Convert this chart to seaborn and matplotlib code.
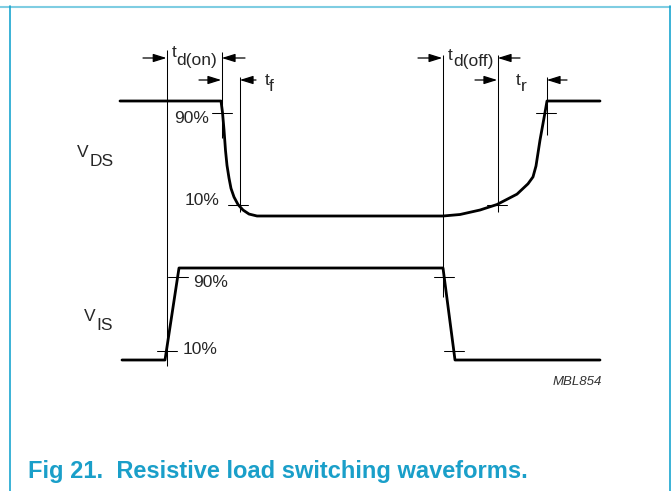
import matplotlib
matplotlib.use('Agg')
import matplotlib.pyplot as plt
import seaborn as sns
import pandas as pd

# waveform data: time (same scale as the drawing) and normalised level 0..1
vds_time = [120, 221, 222.5, 224, 225.5, 227, 229, 231, 234, 238, 243, 249, 257,
            443, 460, 480, 497, 517, 528, 533, 536, 540, 545, 547, 600]
vds_level = [1, 1, 0.9, 0.75, 0.57, 0.44, 0.33, 0.24, 0.165, 0.1, 0.052, 0.017, 0,
             0, 0.013, 0.052, 0.1, 0.19, 0.28, 0.34, 0.435, 0.66, 0.9, 1, 1]
vis_time = [122, 165, 179, 443, 455, 600]
vis_level = [0, 0, 1, 1, 0, 0]

# 10% / 90% crossing points (time, level) on each waveform
vds_marks_t = [222, 238, 497, 546]
vds_marks_v = [0.9, 0.1, 0.1, 0.9]
vis_marks_t = [167, 178, 443.5, 454]
vis_marks_v = [0.1, 0.9, 0.9, 0.1]

# timing reference lines (time, top, bottom in drawing rows)
ref_t = [167, 221.5, 239.5, 442.5, 497.5, 546.5]
ref_top = [50, 52, 77, 55, 55, 77]
ref_bottom = [366, 138, 212, 297, 212, 135]

# interval names (main, subscript)
interval_names = [('t', 'd(on)'), ('t', 'f'), ('t', 'd(off)'), ('t', 'r')]

blue_caption = '#1a9fc9'
fs = 12.5

sns.set_style('white')
plt.rcParams['font.family'] = ['Liberation Sans', 'DejaVu Sans']

fig = plt.figure(figsize=(6.71, 4.91), dpi=100)
W, H = 671, 491

# overlay axes in drawing coordinates (x = time, y = rows from top)
ax = fig.add_axes([0, 0, 1, 1])
ax.set_xlim(0, W)
ax.set_ylim(H, 0)
ax.axis('off')

# waveform axes, level 0..1 mapped onto their rows
ax_ds = fig.add_axes([0, 1 - 216 / H, 1, 115 / H])
ax_is = fig.add_axes([0, 1 - 360 / H, 1, 92 / H])
for a in (ax_ds, ax_is):
    a.set_xlim(0, W)
    a.set_ylim(0, 1)
    a.axis('off')
    a.patch.set_alpha(0)

df_ds = pd.DataFrame({'t': vds_time, 'v': vds_level})
df_is = pd.DataFrame({'t': vis_time, 'v': vis_level})
sns.lineplot(data=df_ds, x='t', y='v', ax=ax_ds, sort=False, estimator=None,
             color='black', lw=2.0)
sns.lineplot(data=df_is, x='t', y='v', ax=ax_is, sort=False, estimator=None,
             color='black', lw=2.0)

# small crossing ticks
for t, v in zip(vds_marks_t, vds_marks_v):
    ax_ds.plot([t - 10, t + 10], [v, v], color='black', lw=0.75)
for t, v in zip(vis_marks_t, vis_marks_v):
    ax_is.plot([t - 10, t + 10], [v, v], color='black', lw=0.75)
for a in (ax_ds, ax_is):
    for line in a.lines:
        line.set_clip_on(False)

# reference lines
ax.vlines(ref_t, ref_top, ref_bottom, color='black', lw=0.75)

# dimension arrows (tail, head, row)
arrows = [(143, 166.5, 58), (245, 221.8, 58), (418, 442.3, 58), (520, 497.8, 58),
          (199, 221.2, 80), (256, 239.8, 80), (475, 497.2, 80), (567, 546.8, 80)]
for tail, head, y in arrows:
    ax.annotate('', xy=(head, y), xytext=(tail, y),
                arrowprops=dict(arrowstyle='-|>,head_length=0.8,head_width=0.25',
                                color='black', lw=0.9, shrinkA=0, shrinkB=0))

# interval labels: t plus a full-size subscript
label_pos = [(172, 57, 176, 65), (265, 85, 269, 91), (448, 60, 453, 66), (516, 85, 521, 91)]
for (main, sub), (x1, y1, x2, y2) in zip(interval_names, label_pos):
    ax.text(x1, y1, main, fontsize=fs, va='baseline', ha='left')
    ax.text(x2, y2, sub, fontsize=fs, va='baseline', ha='left')

# signal names
ax.text(77, 157, 'V', fontsize=fs, va='baseline', ha='left')
ax.text(90, 166, 'DS', fontsize=fs, va='baseline', ha='left')
ax.text(84, 321, 'V', fontsize=fs, va='baseline', ha='left')
ax.text(96, 330, 'IS', fontsize=fs, va='baseline', ha='left')

# percent labels
ax.text(209, 123, '90%', fontsize=fs, va='baseline', ha='right')
ax.text(220, 205, '10%', fontsize=fs, va='baseline', ha='right')
ax.text(193, 287, '90%', fontsize=fs, va='baseline', ha='left')
ax.text(183, 354, '10%', fontsize=fs, va='baseline', ha='left')

ax.text(602, 385, 'MBL854', fontsize=9.5, style='italic', color='#333333',
        va='baseline', ha='right')

# frame
ax.plot([0, W], [6.7, 6.7], color='#7fcde2', lw=1.5)
ax.plot([10, 10], [6, H], color='#1aa5cf', lw=1.2)
ax.plot([669.5, 669.5], [6, H], color='#1aa5cf', lw=1.2)

# caption
ax.text(28, 478, 'Fig 21.  Resistive load switching waveforms.', fontsize=17,
        fontweight='bold', color=blue_caption, va='baseline', ha='left')

fig.savefig('out.png', dpi=100, facecolor='white')
